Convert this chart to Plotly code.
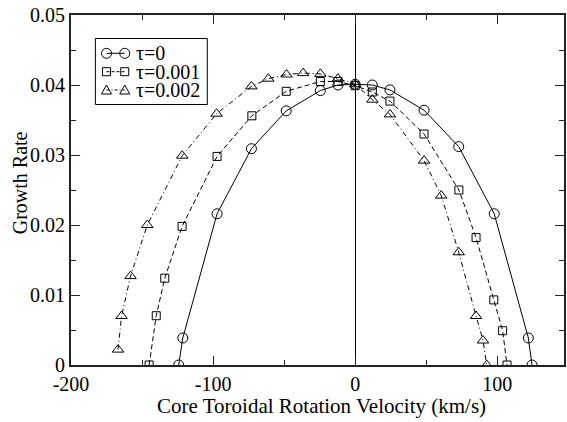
import plotly.graph_objects as go

# ---------------- data ----------------
v_tau0 = [-124.2, -121.3, -97.2, -73.0, -48.5, -24.5, -12.1, 0.0, 12.1, 24.5, 48.5, 72.9, 97.9, 121.9, 124.5]
g_tau0 = [0.0, 0.00386, 0.0216, 0.0309, 0.0363, 0.0392, 0.0400, 0.0401, 0.0400, 0.0393, 0.0364, 0.0312, 0.0216, 0.00386, 0.0]

v_tau1 = [-145.0, -140.0, -134.0, -121.8, -97.2, -72.7, -48.5, -24.5, -12.1, 0.0, 12.1, 24.5, 48.5, 73.0, 85.1, 97.6, 103.8, 106.9]
g_tau1 = [0.0, 0.00704, 0.0124, 0.0198, 0.0298, 0.0356, 0.0391, 0.0405, 0.0405, 0.0399, 0.0390, 0.0377, 0.0330, 0.0250, 0.0182, 0.0093, 0.0049, 0.0]

v_tau2 = [-166.9, -164.4, -158.1, -146.3, -121.7, -97.5, -73.0, -61.1, -48.3, -36.6, -24.5, -12.1, 0.0, 12.1, 24.5, 48.5, 60.6, 72.9, 85.1, 90.0, 92.6]
g_tau2 = [0.0022, 0.0070, 0.0127, 0.0200, 0.0299, 0.0359, 0.0398, 0.0409, 0.0415, 0.0417, 0.0416, 0.0409, 0.0401, 0.0379, 0.0358, 0.0292, 0.0242, 0.0161, 0.0070, 0.0035, 0.0]

series_names = ["τ=0", "τ=0.001", "τ=0.002"]

x_tick_vals = [-200, -100, 0, 100]
x_tick_labels = ["-200", "-100", "0", "100"]
y_tick_vals = [0, 0.01, 0.02, 0.03, 0.04, 0.05]
y_tick_labels = ["0", "0.01", "0.02", "0.03", "0.04", "0.05"]

x_title = "Core Toroidal Rotation Velocity (km/s)"
y_title = "Growth Rate"

# ---------------- styles ----------------
FONT = '"Liberation Serif", "Times New Roman", Times, "DejaVu Serif", serif'
W, H = 567, 422
L, R, T, B = 71, 566.5, 15, 365

styles = [
    dict(symbol="circle-open", size=10, dash="solid"),
    dict(symbol="square-open", size=8, dash="5px,3px"),
    dict(symbol="triangle-up-open", size=10, dash="5px,3px,1px,3px"),
]

fig = go.Figure()
for xs, ys, name, st in zip([v_tau0, v_tau1, v_tau2], [g_tau0, g_tau1, g_tau2], series_names, styles):
    fig.add_trace(go.Scatter(
        x=xs, y=ys, name=name, mode="lines+markers",
        line=dict(color="black", width=1, dash=st["dash"]),
        marker=dict(symbol=st["symbol"], size=st["size"], color="black",
                    line=dict(color="black", width=1)),
        showlegend=False,
    ))

def px(xp):
    return (xp - L) / (R - L)

def py(yp):
    return (B - yp) / (B - T)

shapes = []
annotations = []
# legend box
shapes.append(dict(type="rect", xref="paper", yref="paper",
                   x0=px(95.5), x1=px(208), y0=py(104.5), y1=py(38.5),
                   line=dict(color="black", width=1), fillcolor="white", layer="above"))
rows = [53.3, 71.7, 90.0]
for i, (yr, name) in enumerate(zip(rows, series_names)):
    shapes.append(dict(type="line", xref="paper", yref="paper",
                       x0=px(106.7), x1=px(125), y0=py(yr), y1=py(yr),
                       line=dict(color="black", width=1, dash=["solid", "3px,2px", "3px,2px,1px,2px"][i]),
                       layer="above"))
    for xc in (106.7, 125):
        base = dict(xref="paper", yref="paper", xsizemode="pixel", ysizemode="pixel",
                    xanchor=px(xc), yanchor=py(yr), line=dict(color="black", width=1),
                    layer="above")
        if i == 0:
            shapes.append(dict(type="circle", x0=-5, x1=5, y0=-5, y1=5, **base))
        elif i == 1:
            shapes.append(dict(type="rect", x0=-4, x1=4, y0=-4, y1=4, **base))
        else:
            shapes.append(dict(type="path", path="M-5,-4 L5,-4 L0,5 Z", **base))
    annotations.append(dict(xref="paper", yref="paper", x=px(134.5), y=py(yr),
                            xanchor="left", yanchor="middle", text=name, showarrow=False,
                            font=dict(family=FONT, size=20, color="black")))

# axis titles placed as in the reference
annotations.append(dict(xref="paper", yref="paper", x=px(20), y=py(183),
                        xanchor="center", yanchor="middle", text=y_title, textangle=-90,
                        showarrow=False, font=dict(family=FONT, size=20, color="black")))
annotations.append(dict(xref="paper", yref="paper", x=px(323), y=py(406),
                        xanchor="center", yanchor="middle", text=x_title,
                        showarrow=False, font=dict(family=FONT, size=21, color="black")))

axis_common = dict(
    showline=True, linecolor="#222", linewidth=2, mirror="ticks",
    ticks="inside", ticklen=9, tickwidth=1, tickcolor="#222",
    showgrid=False,
    tickfont=dict(family=FONT, size=20, color="black"),
)

fig.update_layout(
    width=W, height=H,
    margin=dict(l=L, r=W - R, t=T, b=H - B),
    paper_bgcolor="white", plot_bgcolor="white",
    font=dict(family=FONT, color="black"),
    shapes=shapes, annotations=annotations,
    xaxis=dict(range=[-200, 147], tickmode="array", tickvals=x_tick_vals, ticktext=x_tick_labels,
               zeroline=True, zerolinecolor="black", zerolinewidth=1,
               minor=dict(dtick=50, tick0=-200, ticks="inside", ticklen=5, tickcolor="#222", showgrid=False),
               **axis_common),
    yaxis=dict(range=[0, 0.05], tickmode="array", tickvals=y_tick_vals, ticktext=y_tick_labels,
               zeroline=False,
               minor=dict(dtick=0.005, tick0=0, ticks="inside", ticklen=5, tickcolor="#222", showgrid=False),
               **axis_common),
)

fig.write_html("out.html", config={"displayModeBar": False},
               post_script="document.body.style.margin='0';document.body.style.overflow='hidden';")
